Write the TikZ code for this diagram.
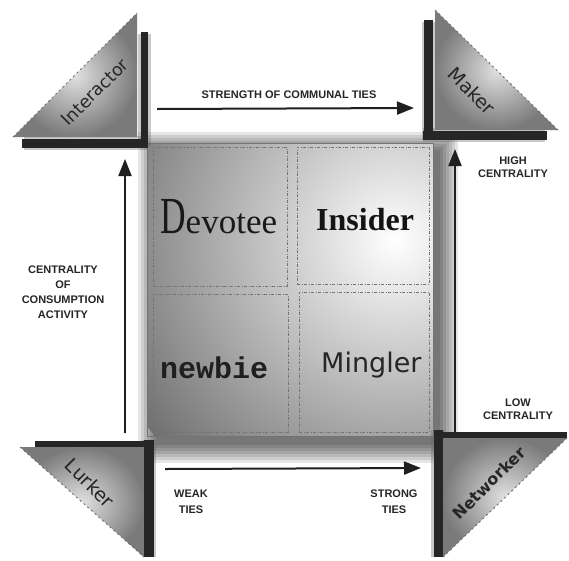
\documentclass[tikz,border=0pt]{standalone}
\usepackage{fontspec}
\usepackage{graphicx}
\setmainfont{Liberation Serif}
\newfontfamily\lblfont{Liberation Sans}
\newfontfamily\dvfont{DejaVu Sans}
\newfontfamily\monofont{Liberation Mono}
\usetikzlibrary{arrows.meta}
\tikzset{
  bar/.style={line width=#1, black!85},
  barhalo/.style={line width=#1, black!60, opacity=0.35},
  tri/.style={inner color=black!12, outer color=black!52},
  hyp/.style={black!55, line width=1pt, dash pattern=on 2pt off 3pt},
  quad/.style={draw=black!55, line width=0.8pt, dash pattern=on 3pt off 1.5pt on 1pt off 1.5pt, minimum width=#1, inner sep=0pt},
  axis/.style={line width=2pt, black!88, -{Triangle[length=17pt,width=13pt]}},
  caplbl/.style={font=\lblfont\bfseries\fontsize{11}{15}\selectfont, text=black!85, align=center, inner sep=0pt},
  trilbl/.style={font=\dvfont, text=black!85, inner sep=0pt}
}
\begin{document}
\begin{tikzpicture}[x=1pt,y=-1pt]
\useasboundingbox (0,0) rectangle (569,560);
\fill[white] (0,0) rectangle (569,560);

% square shadow
\foreach \d in {0,3,...,18}
  \fill[black, opacity=0.1] (156-\d,150-\d) rectangle (440+\d,445+\d);

% central square
\node (sq) [anchor=north west, minimum width=286pt, minimum height=293pt, inner sep=0pt] at (147,143) {};
\begin{scope}
  \clip (sq.north west) rectangle (sq.south east);
  \shade[inner color=white, outer color=black!56] (395,240) circle (310);
\end{scope}
\draw[black!55, line width=1pt] (sq.north west) rectangle (sq.south east);

% quadrants
\node (qtl) [quad=134pt, minimum height=139pt] at (220,216.5) {};
\node (qtr) [quad=132pt, minimum height=137pt] at (363,215.5) {};
\node (qbl) [quad=135pt, minimum height=138pt] at (220.5,363) {};
\node (qbr) [quad=130pt, minimum height=140pt] at (364,362) {};

\node (devotee) [anchor=base west, inner sep=0pt, text=black!90] at (160,233)
  {\fontsize{52}{52}\selectfont\scalebox{0.68}[1]{D}\fontsize{35}{35}\selectfont evotee};
\node (insider) [anchor=base west, inner sep=0pt, text=black!92] at (316,230)
  {\bfseries\fontsize{32}{32}\selectfont Insider};
\node (newbie) [anchor=base west, inner sep=0pt, text=black!88] at (160,378)
  {\monofont\bfseries\fontsize{30}{30}\selectfont newbie};
\node (mingler) [anchor=base west, inner sep=0pt, text=black!85] at (321,372)
  {\dvfont\fontsize{27}{27}\selectfont Mingler};

% corner bars
\draw[barhalo=13pt] (144,34) -- (144,146);
\draw[barhalo=14pt] (24,143) -- (148,143);
\draw[bar=7pt] (144,32) -- (144,146);
\draw[bar=9pt] (22,143) -- (148,143);

\draw[barhalo=13pt] (428,22) -- (428,140);
\draw[barhalo=14pt] (423,135) -- (545,135);
\draw[bar=9pt] (428,20) -- (428,140);
\draw[bar=9pt] (423,135) -- (547,135);

\draw[barhalo=14pt] (149,440) -- (149,557);
\draw[bar=10pt] (149,440) -- (149,557);
\draw[bar=6pt] (35,444) -- (152,444);

\draw[barhalo=14pt] (438,430) -- (438,557);
\draw[bar=9pt] (438,430) -- (438,557);
\draw[bar=6pt] (436,435) -- (567,435);

% triangles
\coordinate (ia) at (13,137); \coordinate (ib) at (137,13); \coordinate (ic) at (137,137);
\shade[tri] (ia) -- (ib) -- (ic) -- cycle;
\draw[hyp] (ia) -- (ib);
\node (interactor) [trilbl, rotate=45, font=\dvfont\fontsize{17.5}{17.5}\selectfont] at (95,92) {Interactor};

\coordinate (ma) at (435,10); \coordinate (mb) at (558,130); \coordinate (mc) at (435,130);
\shade[tri] (ma) -- (mb) -- (mc) -- cycle;
\draw[hyp] (ma) -- (mb);
\node (maker) [trilbl, rotate=-45, font=\dvfont\fontsize{19}{19}\selectfont] at (472,91) {Maker};

\coordinate (la) at (20,447); \coordinate (lb) at (144,447); \coordinate (lc) at (144,557);
\shade[tri] (la) -- (lb) -- (lc) -- cycle;
\draw[hyp] (la) -- (lc);
\draw[bar=10pt] (149,447) -- (149,557);
\node (lurker) [trilbl, rotate=-45, font=\dvfont\fontsize{19}{19}\selectfont] at (90,483) {Lurker};

\coordinate (na) at (443,438); \coordinate (nb) at (567,438); \coordinate (nc) at (443,557);
\shade[tri] (na) -- (nb) -- (nc) -- cycle;
\draw[hyp] (nb) -- (nc);
\node (networker) [trilbl, rotate=45, font=\dvfont\bfseries\fontsize{16}{16}\selectfont] at (489,483) {Networker};

% axes
\coordinate (ts) at (157,109); \coordinate (te) at (414,108);
\draw[axis] (ts) -- (te);
\node (tlab) [caplbl] at (289,95) {STRENGTH OF COMMUNAL TIES};

\coordinate (bs) at (165,469); \coordinate (be) at (421,468);
\draw[axis] (bs) -- (be);
\node (weak) [caplbl, font=\lblfont\bfseries\fontsize{11}{16}\selectfont] at (191,502) {WEAK\\TIES};
\node (strong) [caplbl, font=\lblfont\bfseries\fontsize{11}{16}\selectfont] at (394,502) {STRONG\\TIES};

\coordinate (ls) at (125,433); \coordinate (le) at (125,159);
\draw[axis] (ls) -- (le);
\node (llab) [caplbl] at (63,292) {CENTRALITY\\OF\\CONSUMPTION\\ACTIVITY};

\coordinate (rs) at (455,433); \coordinate (re) at (455,149);
\draw[axis] (rs) -- (re);
\node (high) [caplbl, font=\lblfont\bfseries\fontsize{11}{13}\selectfont] at (513,167) {HIGH\\CENTRALITY};
\node (low) [caplbl, font=\lblfont\bfseries\fontsize{11}{13}\selectfont] at (518,409) {LOW\\CENTRALITY};
\end{tikzpicture}
\end{document}
